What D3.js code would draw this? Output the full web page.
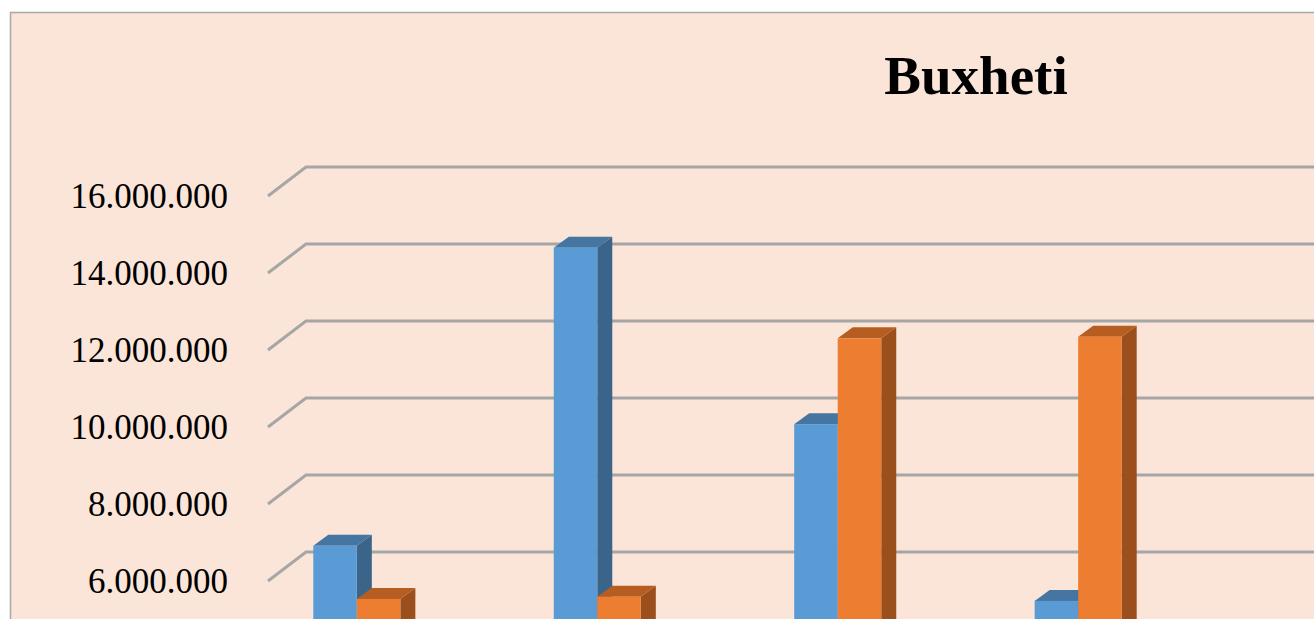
<!DOCTYPE html>
<html>
<head>
<meta charset="utf-8">
<script src="https://cdn.jsdelivr.net/npm/d3@7"></script>
<style>
  html, body { margin: 0; padding: 0; background: #fff; overflow: hidden; }
</style>
</head>
<body>
<div class="chart"></div>
<script>
// categories (axis labels are below the visible part of the picture)
var categories = ["K1", "K2", "K3", "K4"];
var seriesNames = ["s1", "s2"];
var blueValues = [6680000, 14420000, 9840000, 5250000];
var orangeValues = [5300000, 5360000, 12070000, 12110000];
var tickValues = [6000000, 8000000, 10000000, 12000000, 14000000, 16000000];
var title = "Buxheti";

var width = 1314, height = 619;

var svg = d3.select(".chart")
    .append("svg")
    .attr("width", width)
    .attr("height", height);

// chart background + border
svg.append("rect")
    .attr("x", 10.5)
    .attr("y", 12.5)
    .attr("width", width)
    .attr("height", height)
    .style("fill", "#fae5d8")
    .style("stroke", "#a9a9a9")
    .style("stroke-width", 1.5);

svg.append("text")
    .attr("x", 976)
    .attr("y", 94)
    .text(title)
    .style("text-anchor", "middle")
    .style("font-family", "'Liberation Serif', 'Times New Roman', serif")
    .style("font-weight", "bold")
    .style("font-size", "55px")
    .style("fill", "#000");

// y scale is for the back wall
const y = d3.scaleLinear()
    .domain([0, 16000000])
    .range([783, 167]);

// 3d offsets
const wallDx = -38, wallDy = 29;   // back wall -> front edge
const barDx = -26, barDy = 20;     // back wall -> bar front face
const depthDx = 15, depthDy = -11; // bar front -> bar back

const fmt = v => d3.format(",")(v).replace(/,/g, ".");

const grid = svg.append("g");
tickValues.forEach(t => {
    const yy = y(t);
    grid.append("path")
        .attr("d", `M${306 + wallDx},${yy + wallDy}L306,${yy}L${width + 5},${yy}`)
        .style("fill", "none")
        .style("stroke", "#a6a6a6")
        .style("stroke-width", 3);
    grid.append("text")
        .attr("x", 228)
        .attr("y", yy + wallDy)
        .attr("dy", "0.35em")
        .text(fmt(t))
        .style("text-anchor", "end")
        .style("font-family", "'Liberation Serif', 'Times New Roman', serif")
        .style("font-size", "35px")
        .style("fill", "#000");
});

// x scale in bar front face coordinates
const x0 = d3.scaleBand()
    .domain(categories)
    .range([306 + barDx, 1155])
    .paddingInner(0.638)
    .paddingOuter(0.1385);

const x1 = d3.scaleBand()
    .domain(seriesNames)
    .range([0, x0.bandwidth()]);

const colors = {
    s1: { front: "#5b9bd5", top: "#4575a1", side: "#3a6489" },
    s2: { front: "#ed7d31", top: "#b65e21", side: "#9a4f1c" }
};

var bars = [];
categories.forEach((c, i) => {
    bars.push({ cat: c, series: "s1", value: blueValues[i] });
    bars.push({ cat: c, series: "s2", value: orangeValues[i] });
});

const barG = svg.selectAll(".bar")
    .data(bars)
    .enter()
    .append("g")
    .attr("class", "bar");

function geom(d) {
    const left = x0(d.cat) + x1(d.series);
    const right = left + x1.bandwidth();
    const top = y(d.value) + barDy;
    const bottom = y(0) + barDy;
    return { left, right, top, bottom };
}

// side face
barG.append("path")
    .attr("d", d => {
        const g = geom(d);
        return `M${g.right},${g.top}L${g.right + depthDx},${g.top + depthDy}L${g.right + depthDx},${g.bottom + depthDy}L${g.right},${g.bottom}Z`;
    })
    .style("fill", d => colors[d.series].side);

// top face
barG.append("path")
    .attr("d", d => {
        const g = geom(d);
        return `M${g.left},${g.top}L${g.left + depthDx},${g.top + depthDy}L${g.right + depthDx},${g.top + depthDy}L${g.right},${g.top}Z`;
    })
    .style("fill", d => colors[d.series].top);

// front face
barG.append("rect")
    .attr("x", d => geom(d).left)
    .attr("y", d => geom(d).top)
    .attr("width", x1.bandwidth())
    .attr("height", d => geom(d).bottom - geom(d).top)
    .style("fill", d => colors[d.series].front);
</script>
</body>
</html>
